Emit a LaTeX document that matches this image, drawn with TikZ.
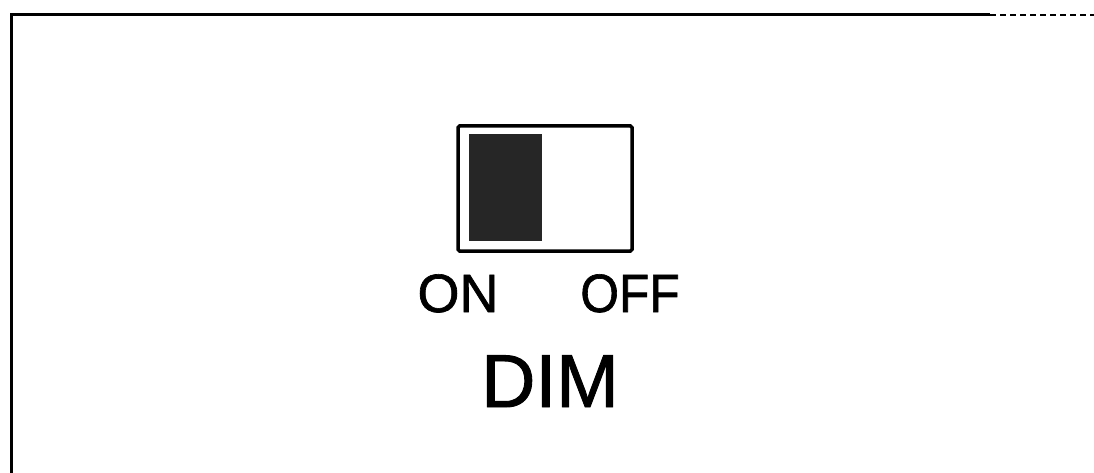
\documentclass[tikz,border=0pt]{standalone}
\usepackage{fontspec}
\setmainfont{Liberation Sans}
\newfontfamily\heavyfont[FakeBold=1.2]{Liberation Sans}
\begin{document}
\begin{tikzpicture}[x=1pt,y=-1pt,
  frameline/.style={line width=3pt,black},
  switchbox/.style={draw=black,line width=3.5pt},
  knob/.style={fill=black!85,draw=none},
  lbl/.style={inner sep=0pt,anchor=base,font=\heavyfont\fontsize{54}{54}\selectfont},
  title/.style={inner sep=0pt,anchor=base,font=\heavyfont\fontsize{75}{75}\selectfont}]
\useasboundingbox (0,0) rectangle (1094,473);
\fill[white] (0,0) rectangle (1094,473);
% frame (left and top edges)
\coordinate (fbl) at (11.5,473);
\coordinate (ftl) at (11.5,15);
\coordinate (ftm) at (990,15);
\coordinate (ftr) at (1094,15);
\draw[frameline] (fbl) -- (ftl) -- (ftm);
\draw[line width=2pt,dash pattern=on 6pt off 4pt] (ftm) -- (ftr);
% switch
\draw[switchbox,rounded corners=1.5pt] (458,126) rectangle (632,251);
\fill[knob] (469,134) rectangle (542,241);
% labels
\node[lbl] (on) at (458,312) {ON};
\node[lbl,xscale=0.92] (off) at (630,312) {OFF};
\node[title] (dim) at (550,407) {DIM};
\end{tikzpicture}
\end{document}
